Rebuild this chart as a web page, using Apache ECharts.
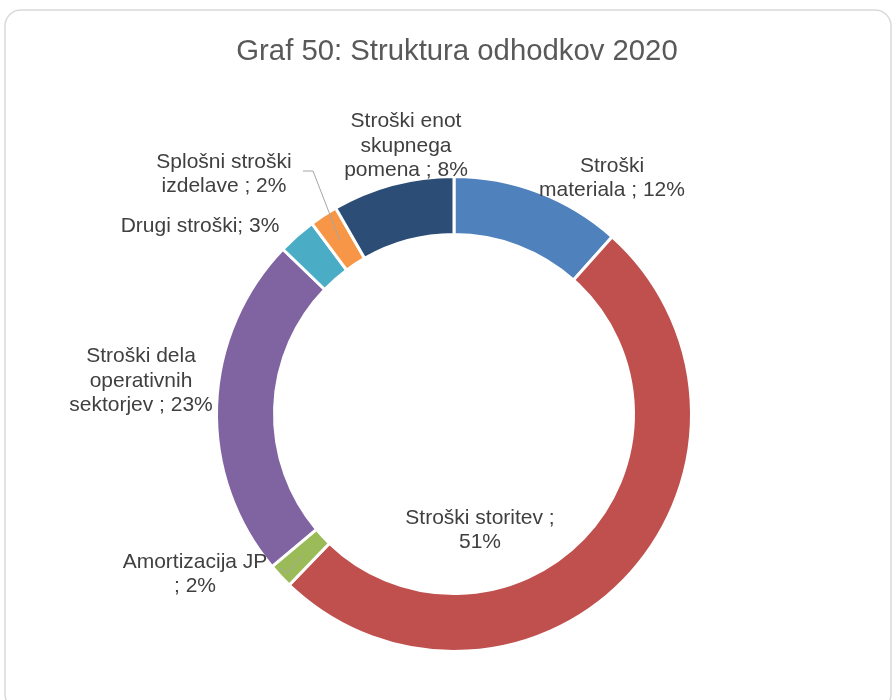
<!DOCTYPE html>
<html>
<head>
<meta charset="utf-8">
<script src="https://cdn.jsdelivr.net/npm/echarts@6/dist/echarts.min.js"></script>
<style>
  html, body { margin: 0; padding: 0; background: #ffffff; }
  #chart { width: 894px; height: 700px; }
</style>
</head>
<body>
<div id="chart"></div>
<script>
// Cost structure 2020 (share of total expenditure, %)
const categories = [
  'Stroški materiala',
  'Stroški storitev',
  'Amortizacija JP',
  'Stroški dela operativnih sektorjev',
  'Drugi stroški',
  'Splošni stroški izdelave',
  'Stroški enot skupnega pomena'
];
const values = [11.6, 50.6, 1.7, 23.3, 2.6, 1.9, 8.3];
// Label wording with line breaks; {p} is replaced by the rounded share
const labelTexts = [
  'Stroški\nmateriala ; {p}%',
  'Stroški storitev ;\n{p}%',
  'Amortizacija JP\n; {p}%',
  'Stroški dela\noperativnih\nsektorjev ; {p}%',
  'Drugi stroški; {p}%',
  'Splošni stroški\nizdelave ; {p}%',
  'Stroški enot\nskupnega\npomena ; {p}%'
];
const titleText = 'Graf 50: Struktura odhodkov 2020';

const colors = ['#4F81BD', '#C0504D', '#9BBB59', '#8064A2', '#4BACC6', '#F79646', '#2C4D75'];

const total = values.reduce((a, b) => a + b, 0);
const pct = values.map(v => Math.round(v / total * 100));

const cx = 454, cy = 414;
const rOuter = 237.5, rInner = 179.5;
// Leader lines start half-way through the ring
const rLeaderStart = 208;

// Label block centres
const labelPos = [
  [612, 178],
  [480, 530],
  [195, 574],
  [141, 381],
  [200, 226],
  [224, 174],
  [406, 146]
];
// Leader lines: bend and end offsets relative to the label centre
const leaders = {
  2: [[92, -1], [85, -6]],
  5: [[89, -3], [79, -3]]
};

// Mid-angle of each slice (clockwise from 12 o'clock), same geometry as the pie
const midAngles = [];
{
  let cum = 0;
  values.forEach(v => {
    midAngles.push(2 * Math.PI * (cum + v / 2) / total);
    cum += v;
  });
}

const leaderGraphics = Object.keys(leaders).map(key => {
  const i = +key;
  const a = midAngles[i];
  const start = [cx + rLeaderStart * Math.sin(a), cy - rLeaderStart * Math.cos(a)];
  const pos = labelPos[i];
  const b = leaders[i][0], e = leaders[i][1];
  return {
    type: 'polyline',
    silent: true,
    z: 100,
    shape: { points: [start, [pos[0] + b[0], pos[1] + b[1]], [pos[0] + e[0], pos[1] + e[1]]] },
    style: { fill: 'none', stroke: '#a6a6a6', lineWidth: 1 }
  };
});

const chart = echarts.init(document.getElementById('chart'), null, { renderer: 'canvas' });

chart.setOption({
  animation: false,
  backgroundColor: '#ffffff',
  title: {
    text: titleText,
    left: 452,
    top: 32,
    textAlign: 'center',
    textStyle: {
      fontFamily: 'Liberation Sans, Arial, sans-serif',
      fontSize: 29.3,
      fontWeight: 'normal',
      color: '#595959'
    }
  },
  graphic: [{
    type: 'rect',
    silent: true,
    shape: { x: 5, y: 10, width: 886, height: 700, r: 16 },
    style: { fill: 'none', stroke: '#d9d9d9', lineWidth: 1.5 }
  }].concat(leaderGraphics),
  series: [{
    type: 'pie',
    center: [cx, cy],
    radius: [rInner, rOuter],
    startAngle: 90,
    clockwise: true,
    silent: true,
    avoidLabelOverlap: false,
    itemStyle: { borderColor: '#ffffff', borderWidth: 3 },
    label: {
      show: true,
      position: 'outside',
      fontFamily: 'Liberation Sans, Arial, sans-serif',
      fontSize: 21,
      lineHeight: 24.5,
      color: '#404040',
      formatter: p => labelTexts[p.dataIndex].replace('{p}', pct[p.dataIndex])
    },
    labelLine: { show: false },
    labelLayout: function (params) {
      const pos = labelPos[params.dataIndex];
      return { x: pos[0], y: pos[1], align: 'center', verticalAlign: 'middle' };
    },
    data: categories.map((name, i) => ({
      name: name,
      value: values[i],
      itemStyle: { color: colors[i] }
    }))
  }]
});
</script>
</body>
</html>
